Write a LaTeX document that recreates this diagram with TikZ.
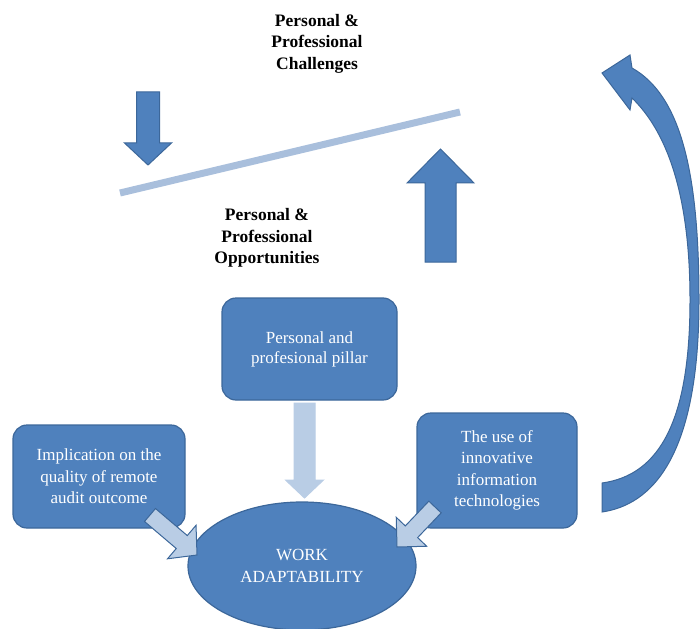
\documentclass[tikz,border=0pt]{standalone}
\usepackage{fontspec}
\setmainfont{Liberation Serif}
\usetikzlibrary{calc,positioning,shapes.geometric}

\definecolor{boxblue}{HTML}{4F81BD}
\definecolor{boxline}{HTML}{3C679A}
\definecolor{paleblue}{HTML}{B9CDE5}
\definecolor{lineblue}{HTML}{A9BFDC}

\newcommand{\blockarrow}[6][]{%
  \coordinate (hb) at ($(#3)!#6!(#2)$);
  \draw[#1] ($(#2)!#4!90:(#3)$) -- ($(hb)!#4!90:(#3)$) -- ($(hb)!#5!90:(#3)$) -- (#3)
    -- ($(hb)!#5!-90:(#3)$) -- ($(hb)!#4!-90:(#3)$) -- ($(#2)!#4!-90:(#3)$) -- cycle;}

\begin{document}
\begin{tikzpicture}[x=1pt, y=-1pt,
  box/.style={rectangle, rounded corners=14pt, fill=boxblue, draw=boxline, line width=1.2pt,
    text=white, align=center, font=\fontsize{17}{21.5}\selectfont, inner sep=0pt},
  heading/.style={align=center, font=\fontsize{17.5}{21.5}\selectfont\bfseries, inner sep=0pt},
  bigarrow/.style={fill=boxblue, draw=boxline, line width=1pt},
  palearrow/.style={fill=paleblue, draw=boxline, line width=1pt}]
\useasboundingbox (0,0) rectangle (700,628);

\node[heading] (chal) at (317,43.5) {Personal \&\\Professional\\Challenges};
\node[heading] (opp) at (267,238) {Personal \&\\Professional\\Opportunities};

\coordinate (bal1) at (120,193);
\coordinate (bal2) at (460,112);
\draw[lineblue, line width=7pt] (bal1) -- (bal2);

\coordinate (down1) at (148,92);
\coordinate (down2) at (148,165);
\blockarrow[bigarrow]{down1}{down2}{11.5pt}{23.5pt}{22pt}
\coordinate (up1) at (440.5,262);
\coordinate (up2) at (440.5,149);
\blockarrow[bigarrow]{up1}{up2}{15.5pt}{33.5pt}{34pt}

\node[box, minimum width=175pt, minimum height=102pt] (pillar) at (309.5,349) {\raisebox{3pt}{\begin{tabular}{@{}c@{}}Personal and\\[-1pt]profesional pillar\end{tabular}}};
\node[box, minimum width=172pt, minimum height=103pt] (impl) at (99,476.5) {Implication on the\\quality of remote\\audit outcome};
\node[box, minimum width=160pt, minimum height=115pt] (tech) at (497,470.5) {The use of\\innovative\\information\\technologies};
\node[box, ellipse, minimum width=228pt, minimum height=128pt] (work) at (302,566) {WORK\\ADAPTABILITY};

\coordinate (pil1) at (304.5,403);
\coordinate (pil2) at (304.5,498);
\blockarrow[palearrow, draw=paleblue]{pil1}{pil2}{10.5pt}{19pt}{18pt}
\coordinate (imp1) at (150,515);
\coordinate (imp2) at (197,555);
\blockarrow[palearrow]{imp1}{imp2}{8.5pt}{22pt}{20pt}
\coordinate (tec1) at (435,507);
\coordinate (tec2) at (397,547);
\blockarrow[palearrow]{tec1}{tec2}{8.5pt}{21pt}{21pt}

\draw[bigarrow] (602,512) .. controls (650,505) and (699,460) .. (699,300)
  .. controls (699,170) and (680,95) .. (632,68) -- (630,55) -- (602,73) -- (630,110) -- (632,98)
  .. controls (665,130) and (690,190) .. (690,300)
  .. controls (690,420) and (660,475) .. (602,483) -- cycle;
\end{tikzpicture}
\end{document}
